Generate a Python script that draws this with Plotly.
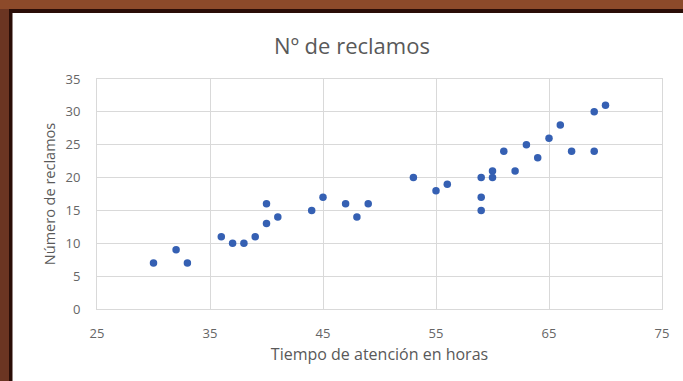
import plotly.graph_objects as go

# Tiempo de atención (horas) y número de reclamos
horas = [30, 32, 33, 36, 37, 38, 39, 40, 40, 41, 44, 45, 47, 48, 49,
         53, 55, 56, 59, 59, 59, 60, 60, 61, 62, 63, 64, 65, 66, 67, 69, 69, 70]
reclamos = [7, 9, 7, 11, 10, 10, 11, 16, 13, 14, 15, 17, 16, 14, 16,
            20, 18, 19, 20, 17, 15, 21, 20, 24, 21, 25, 23, 26, 28, 24, 24, 30, 31]

x_ticks = [25, 35, 45, 55, 65, 75]
y_ticks = [0, 5, 10, 15, 20, 25, 30, 35]

W, H = 683, 381
L, R, T, B = 97, 21, 79, 72
PW, PH = W - L - R, H - T - B


def px_x(p):
    return (p - L) / PW


def px_y(p):
    return (H - B - p) / PH


grid = "#d9d9d9"
text_col = "#595959"
font = "Open Sans"

fig = go.Figure(
    go.Scatter(
        x=horas, y=reclamos, mode="markers",
        marker=dict(color="#3560b3", size=7.5, line=dict(width=0)),
        showlegend=False,
    )
)

shapes = [
    # dark inner edge of the frame
    dict(type="rect", xref="paper", yref="paper", layer="below",
         x0=px_x(9), x1=px_x(W + 5), y0=px_y(H + 5), y1=px_y(9),
         fillcolor="#2a0d07", line=dict(width=0)),
    # left side of the frame, a darker brown
    dict(type="rect", xref="paper", yref="paper", layer="below",
         x0=px_x(-5), x1=px_x(9), y0=px_y(H + 5), y1=px_y(9),
         fillcolor="#6b3522", line=dict(width=0)),
    # white chart area
    dict(type="rect", xref="paper", yref="paper", layer="below",
         x0=px_x(12.5), x1=px_x(W + 5), y0=px_y(H + 5), y1=px_y(13),
         fillcolor="#ffffff", line=dict(width=0)),
]

fig.update_layout(
    width=W, height=H,
    margin=dict(l=L, r=R, t=T, b=B),
    paper_bgcolor="#8c4a2a",
    plot_bgcolor="rgba(0,0,0,0)",
    shapes=shapes,
    title=dict(text="Nº de reclamos", x=352 / W, xref="container", xanchor="center",
               y=1 - 46 / H, yref="container", yanchor="middle",
               font=dict(family=font, size=22, color=text_col)),
    font=dict(family=font, color=text_col),
    xaxis=dict(range=[25, 75], tickvals=x_ticks, showgrid=True, gridcolor=grid,
               gridwidth=1, zeroline=False, showline=True, linecolor=grid,
               mirror=True, ticks="", ticklabelstandoff=12,
               tickfont=dict(size=13, color="#666666"),
               title=dict(text="Tiempo de atención en horas", standoff=8,
                          font=dict(size=16, color=text_col))),
    yaxis=dict(range=[0, 35], tickvals=y_ticks, showgrid=True, gridcolor=grid,
               gridwidth=1, zeroline=False, showline=True, linecolor=grid,
               mirror=True, ticks="", ticklabelstandoff=13,
               tickfont=dict(size=13, color="#666666"),
               title=dict(text="Número de reclamos", standoff=6,
                          font=dict(size=14.5, color=text_col))),
)

fig.write_html("out.html")
